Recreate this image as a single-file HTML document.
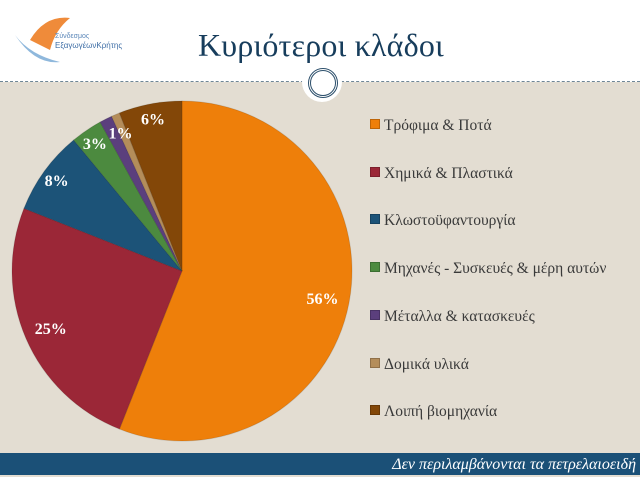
<!DOCTYPE html>
<html><head><meta charset="utf-8"><style>
body{margin:0;width:640px;height:475px;overflow:hidden;background:#e3ddd2;position:relative;font-family:"Liberation Serif",serif}
#hdr{position:absolute;left:0;top:0;width:640px;height:82px;background:#fff}
#title{position:absolute;left:198px;top:27px;font-size:32px;color:#173d5c;letter-spacing:0.2px}
#rule{position:absolute;left:0;top:81px;width:640px;border-top:1px dashed #6f8696}
#knob{position:absolute;left:302px;top:62px;width:40px;height:40px;border-radius:50%;background:#fff}
#knob div{position:absolute;left:6px;top:6px;width:24px;height:24px;border-radius:50%;border:3px double #2c4f6b}
.leg{position:absolute;left:370px;font-size:15.5px;color:#3a3a3a;white-space:nowrap}
.leg span{display:inline-block;width:8px;height:8px;margin-right:4px;vertical-align:1px;border:1px solid rgba(0,0,0,.2)}
#foot{position:absolute;left:0;top:453px;width:640px;height:22px;background:#1b5077;color:#fff;font-style:italic;font-size:16px;text-align:right;line-height:24px;padding-right:4px;box-sizing:border-box;white-space:nowrap}
</style></head><body>
<div id="hdr">
 <svg width="140" height="70" style="position:absolute;left:10px;top:10px">
  <path d="M20 30 Q35 5 60 8 Q45 20 40 40 Z" fill="#ef8b3a"/>
  <path d="M5 25 Q20 45 50 52 Q25 55 5 25Z" fill="#8fb8dc"/>
  <text x="45" y="28" font-size="7" fill="#5a86b8" font-family="Liberation Sans,sans-serif">Σύνδεσμος</text>
  <text x="45" y="38" font-size="8" fill="#3e6ea6" font-family="Liberation Sans,sans-serif">ΕξαγωγέωνΚρήτης</text>
 </svg>
 <div id="title">Κυριότεροι κλάδοι</div>
</div>
<div id="rule"></div>
<div id="knob"><div></div></div>
<svg id="pie" width="640" height="475" style="position:absolute;left:0;top:0"></svg>
<div id="legend"></div>
<div id="foot">Δεν περιλαμβάνονται τα πετρελαιοειδή</div>
<script>
const categories=["Τρόφιμα & Ποτά","Χημικά & Πλαστικά","Κλωστοϋφαντουργία","Μηχανές - Συσκευές & μέρη αυτών","Μέταλλα & κατασκευές","Δομικά υλικά","Λοιπή βιομηχανία"];
const values=[56,25,8,3,1.2,0.8,6];
const labels=["56%","25%","8%","3%","1%","","6%"];
const colors=["#ee7f0a","#9b2737","#1c5378","#4c8a3f","#5b3f7d","#b48d5a","#834708"];
const svg=document.getElementById('pie');
const NS="http://www.w3.org/2000/svg";
const cx=182,cy=271,r=170;
const total=values.reduce((a,b)=>a+b,0);
function pt(a,rr){return [cx+rr*Math.sin(a),cy-rr*Math.cos(a)];}
let acc=0;
const mids=[];
values.forEach((v,i)=>{
 const a0=acc/total*2*Math.PI;acc+=v;const a1=acc/total*2*Math.PI;
 mids.push((a0+a1)/2);
 const p0=pt(a0,r),p1=pt(a1,r);
 const p=document.createElementNS(NS,'path');
 p.setAttribute('d',`M${cx},${cy}L${p0[0]},${p0[1]}A${r},${r} 0 ${a1-a0>Math.PI?1:0} 1 ${p1[0]},${p1[1]}Z`);
 p.setAttribute('fill',colors[i]);
 p.setAttribute('stroke','rgba(0,0,0,0.12)');
 
 
 svg.appendChild(p);
});
values.forEach((v,i)=>{
 if(!labels[i])return;
 const q=pt(mids[i],v<10?155:143);
 const t=document.createElementNS(NS,'text');
 t.setAttribute('x',q[0]+(v<2?8:0));t.setAttribute('y',q[1]+6);
 t.setAttribute('text-anchor','middle');t.setAttribute('fill','#fff');
 t.setAttribute('font-size','16');t.setAttribute('font-weight','bold');
 t.setAttribute('font-family','Liberation Serif,serif');
 t.textContent=labels[i];
 
 
 svg.appendChild(t);
});
const leg=document.getElementById('legend');
categories.forEach((c,i)=>{
 const d=document.createElement('div');d.className='leg';
 d.style.top=(117+i*47.7)+'px';
 d.innerHTML=`<span style="background:${colors[i]}"></span>${c}`;
 
 
 leg.appendChild(d);
});
</script>
</body></html>
